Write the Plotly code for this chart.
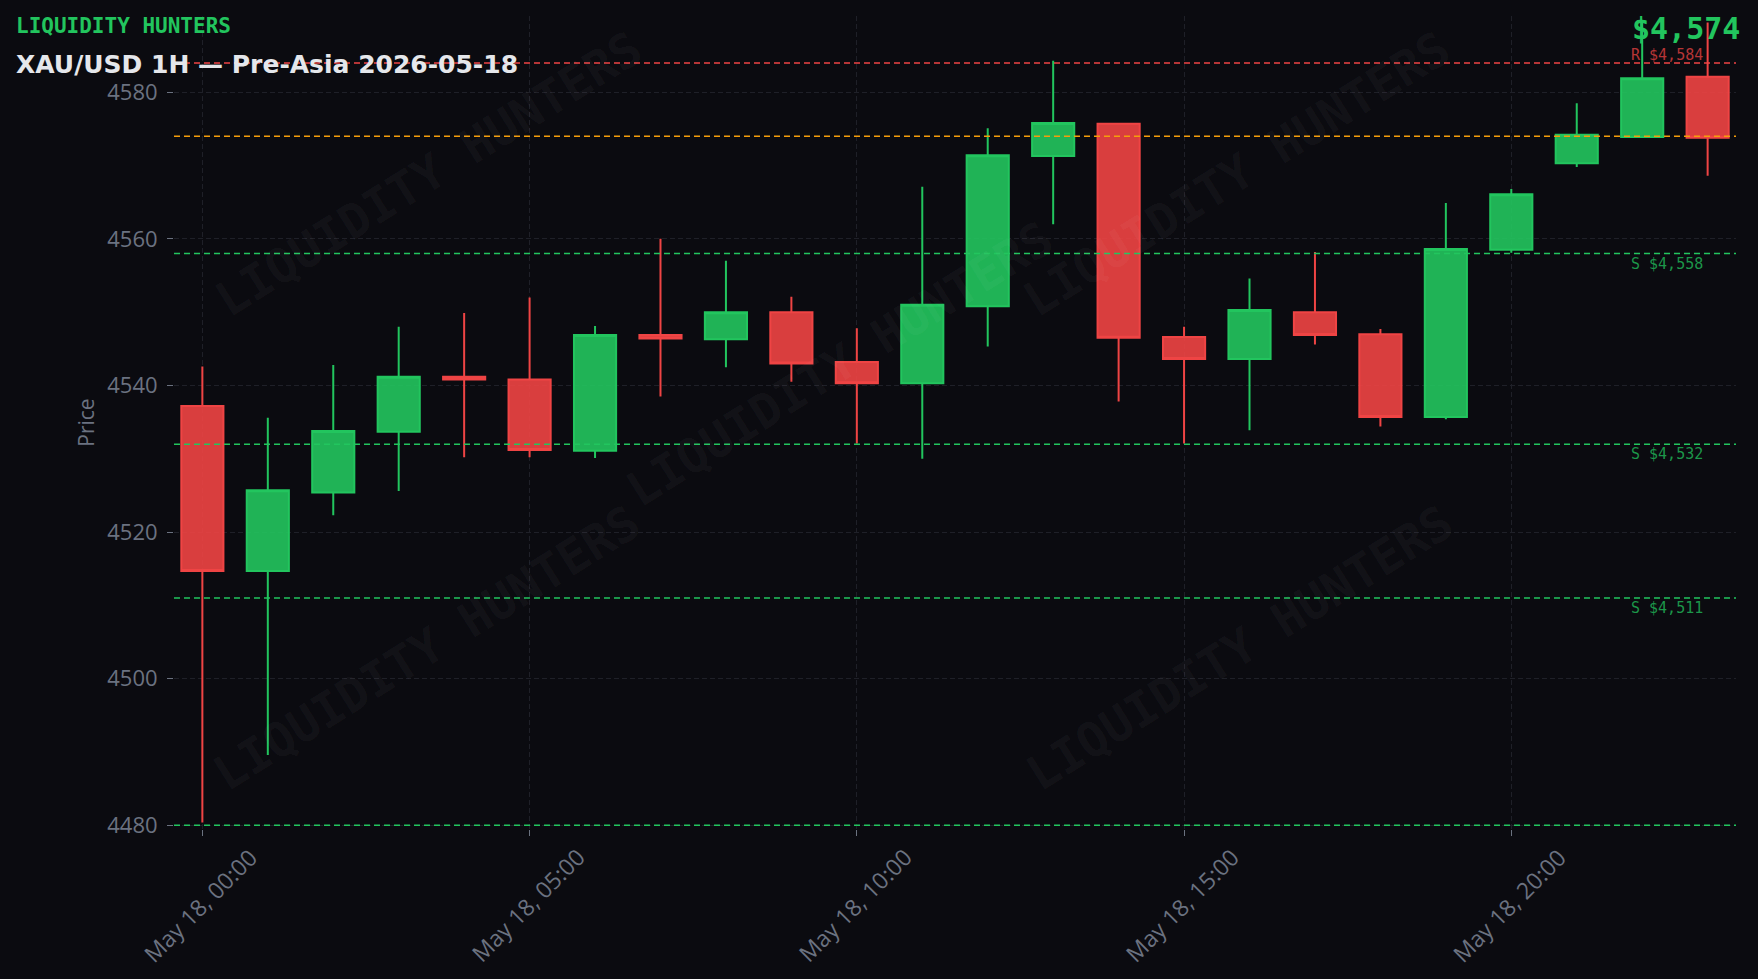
import pandas as pd
import plotly.graph_objects as go

# ---------------- data ----------------
times = pd.date_range("2026-05-18 00:00", periods=24, freq="h")
opens = [4537.2, 4514.7, 4525.4, 4533.7, 4541.2, 4540.8, 4531.1, 4546.9,
         4546.3, 4550.0, 4543.2, 4540.3, 4550.8, 4571.3, 4575.7, 4546.6,
         4543.6, 4550.0, 4547.0, 4535.7, 4558.5, 4570.3, 4573.9, 4582.1]
highs = [4542.6, 4535.6, 4542.8, 4548.0, 4549.9, 4552.0, 4548.1, 4560.0,
         4557.0, 4552.1, 4547.8, 4567.1, 4575.1, 4584.3, 4575.7, 4548.0,
         4554.6, 4558.2, 4547.7, 4564.9, 4566.8, 4578.5, 4589.6, 4589.5]
lows = [4480.4, 4489.6, 4522.3, 4525.6, 4530.2, 4530.2, 4530.1, 4538.5,
        4542.5, 4540.5, 4532.1, 4530.0, 4545.3, 4562.0, 4537.8, 4532.1,
        4533.9, 4545.6, 4534.4, 4535.4, 4558.1, 4569.8, 4573.9, 4568.6]
closes = [4514.7, 4525.7, 4533.8, 4541.2, 4540.8, 4531.2, 4546.9, 4546.4,
          4550.0, 4543.0, 4540.3, 4551.0, 4571.4, 4575.8, 4546.5, 4543.6,
          4550.3, 4546.9, 4535.7, 4558.6, 4566.1, 4574.2, 4581.9, 4573.8]

resistance_levels = [4584]
support_levels = [4558, 4532, 4511]
extra_support = [4480]
current_price = 4574
brand = "LIQUIDITY HUNTERS"
title_text = "XAU/USD 1H — Pre-Asia 2026-05-18"
x_tick_times = list(times[::5])

# ---------------- styling ----------------
BG = "#0b0b10"
GREEN = "#22c55e"
RED = "#ef4444"
ORANGE = "#f59e0b"
GRID = "#1f2028"
TICK = "#6b7280"

W, H = 1758, 979
L, R, T, B = 174, 22, 16, 150
pw, ph = W - L - R, H - T - B


def px(x):
    return (x - L) / pw


def py(y):
    return 1 - (y - T) / ph


fig = go.Figure()
fig.add_trace(go.Candlestick(
    x=times, open=opens, high=highs, low=lows, close=closes,
    increasing=dict(line=dict(color=GREEN, width=2), fillcolor="rgba(34,197,94,0.9)"),
    decreasing=dict(line=dict(color=RED, width=2), fillcolor="rgba(239,68,68,0.9)"),
    showlegend=False, hoverinfo="x+y",
))

shapes = []
annotations = []
dash = "6px,4px"
for lv in resistance_levels:
    shapes.append(dict(type="line", xref="paper", x0=0, x1=1, yref="y", y0=lv, y1=lv,
                       line=dict(color=RED, width=1.5, dash=dash), layer="above"))
    annotations.append(dict(xref="paper", x=px(1705), xanchor="right", yref="y", y=lv,
                            yanchor="bottom", yshift=-3, text=f"R ${lv:,}", showarrow=False,
                            font=dict(family="DejaVu Sans Mono", size=15,
                                      color="rgba(239,68,68,0.75)")))
shapes.append(dict(type="line", xref="paper", x0=0, x1=1, yref="y", y0=current_price,
                   y1=current_price, line=dict(color=ORANGE, width=1.5, dash=dash),
                   layer="above"))
for lv in support_levels:
    shapes.append(dict(type="line", xref="paper", x0=0, x1=1, yref="y", y0=lv, y1=lv,
                       line=dict(color=GREEN, width=1.5, dash=dash), layer="above"))
    annotations.append(dict(xref="paper", x=px(1705), xanchor="right", yref="y", y=lv,
                            yanchor="top", yshift=1, text=f"S ${lv:,}", showarrow=False,
                            font=dict(family="DejaVu Sans Mono", size=15,
                                      color="rgba(34,197,94,0.75)")))
for lv in extra_support:
    shapes.append(dict(type="line", xref="paper", x0=0, x1=1, yref="y", y0=lv, y1=lv,
                       line=dict(color=GREEN, width=1.5, dash=dash), layer="above"))

# watermarks
for (wx, wy) in [(428, 174), (839, 364), (1236, 174), (426, 648), (1239, 648)]:
    annotations.append(dict(xref="paper", yref="paper", x=px(wx), y=py(wy),
                            xanchor="center", yanchor="middle", text=brand,
                            showarrow=False, textangle=-32,
                            font=dict(family="DejaVu Sans Mono", size=48, weight=700,
                                      color="rgba(255,255,255,0.045)")))

# x tick labels, centred under each tick and rotated
for t in x_tick_times:
    annotations.append(dict(xref="x", x=t, yref="paper", y=py(905), xshift=-2,
                            xanchor="center", yanchor="middle",
                            text=t.strftime("%b %d, %H:%M"), showarrow=False,
                            textangle=-45,
                            font=dict(family="Open Sans", size=23, color=TICK)))

annotations.append(dict(xref="paper", yref="paper", x=px(14), y=py(26), xanchor="left",
                        yanchor="middle", text=brand, showarrow=False,
                        font=dict(family="DejaVu Sans Mono", size=21, weight=700, color=GREEN)))
annotations.append(dict(xref="paper", yref="paper", x=px(14), y=py(65), xanchor="left",
                        yanchor="middle", text=title_text, showarrow=False,
                        font=dict(family="DejaVu Sans", size=25, weight=700, color="#e5e7eb")))
annotations.append(dict(xref="paper", yref="paper", x=px(1742), y=py(28), xanchor="right",
                        yanchor="middle", text=f"${current_price:,}", showarrow=False,
                        font=dict(family="DejaVu Sans Mono", size=30, weight=700, color=GREEN)))

pad = pd.Timedelta(minutes=26)
y_range = [min(lows) - 0.9, max(highs) + 0.8]

fig.update_layout(
    width=W, height=H,
    margin=dict(l=L, r=R, t=T, b=B),
    paper_bgcolor=BG, plot_bgcolor=BG,
    font=dict(family="Open Sans", size=22, color=TICK),
    shapes=shapes, annotations=annotations,
    showlegend=False,
    boxgap=0.08,
    xaxis=dict(
        type="date", range=[times[0] - pad, times[-1] + pad],
        rangeslider=dict(visible=False),
        tick0=times[0], dtick=5 * 3600 * 1000,
        showticklabels=False,
        ticks="outside", ticklen=6, tickcolor=TICK, tickwidth=1,
        showgrid=True, gridcolor=GRID, griddash="5px,3px", gridwidth=1,
        zeroline=False, showline=False,
    ),
    yaxis=dict(
        range=y_range, tick0=4480, dtick=20,
        ticks="outside", ticklen=6, tickcolor=TICK, tickwidth=1,
        ticklabelstandoff=5,
        showgrid=True, gridcolor=GRID, griddash="5px,3px", gridwidth=1,
        zeroline=False, showline=False,
        tickfont=dict(color=TICK, size=22),
        title=dict(text="Price", font=dict(color=TICK, size=21), standoff=6),
    ),
)

fig.write_html("out.html", config={"displayModeBar": False},
               post_script="document.body.style.margin='0';document.body.style.overflow='hidden';")
